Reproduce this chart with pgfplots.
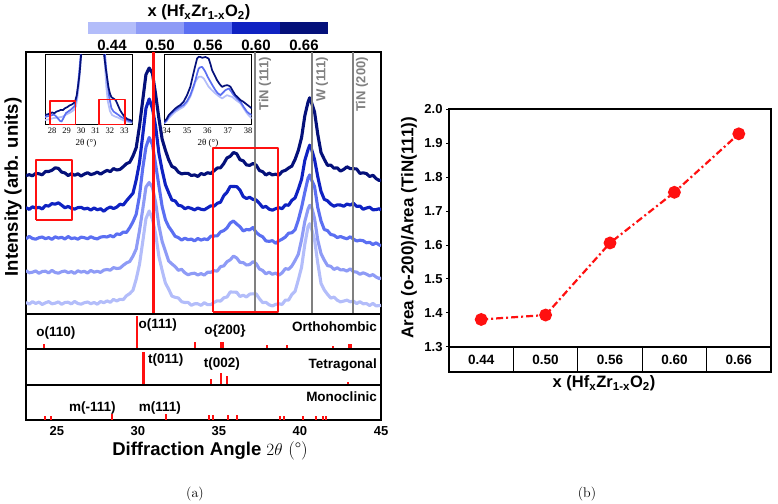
\documentclass[border=0pt]{standalone}
\usepackage{fontspec}
\setsansfont{Liberation Sans}
\newfontfamily\timesfont{Liberation Serif}
\usepackage{pgfplots}
\usepackage{pgfplotstable}
\pgfplotsset{compat=1.18}
\newcommand\fs[1]{\fontsize{#1}{#1}\selectfont}

\definecolor{cA}{HTML}{B3BDFA}
\definecolor{cB}{HTML}{8E9BF6}
\definecolor{cC}{HTML}{5B6FF2}
\definecolor{cD}{HTML}{0F22C2}
\definecolor{cE}{HTML}{04107A}
\definecolor{xred}{HTML}{FF1010}
\definecolor{lgray}{HTML}{808080}

% XRD scans (stacked, offset intensities); c1..c5 = x 0.44 ... 0.66
\pgfplotstableread{
tt c1 c2 c3 c4 c5
23.1 11.6 43.4 75.1 106.4 138.4
23.3 9.9 41.2 77.6 104.6 139.3
23.5 12.3 41.8 75.5 107.2 138.2
23.7 10.6 43.1 74.8 105.9 140.6
23.9 11.9 40.7 76.3 106.7 140.2
24.1 9.5 42.5 77.0 105.0 139.2
24.3 11.2 42.8 75.3 108.5 142.5
24.5 12.4 41.1 76.4 107.9 142.5
24.7 10.2 43.6 74.6 110.4 143.7
24.9 10.8 41.5 77.2 109.8 146.2
25.1 12.1 40.8 75.9 111.2 145.6
25.3 9.7 42.3 76.7 108.8 141.9
25.5 11.5 43.0 75.0 106.2 141.1
25.7 11.8 41.3 77.5 107.6 138.4
25.9 10.1 42.4 75.4 105.7 140.4
26.1 12.6 40.6 76.1 104.9 138.7
26.3 10.5 43.2 74.8 106.4 140.2
26.5 9.8 41.9 76.9 106.7 138.0
26.7 11.3 42.7 76.3 105.0 139.9
26.9 12.0 41.0 75.2 105.8 141.3
27.1 10.3 43.6 77.3 103.9 139.4
27.3 11.5 41.8 75.8 106.1 140.3
27.5 9.8 42.7 75.1 104.2 141.9
27.7 12.5 41.6 76.9 105.3 139.8
27.9 11.3 43.9 77.4 102.7 141.9
28.1 13.1 44.5 77.0 105.4 143.6
28.3 11.7 43.8 78.4 107.0 142.4
28.5 14.6 46.4 77.1 105.4 145.4
28.7 13.0 45.5 80.1 106.9 144.0
28.9 14.7 45.9 79.5 109.8 144.6
29.1 14.4 48.7 81.9 109.0 147.3
29.3 18.3 51.1 81.6 113.2 150.3
29.5 20.4 52.5 86.3 117.0 151.8
29.7 23.8 57.9 92.2 120.8 158.0
29.9 34.9 65.0 99.8 134.1 166.4
30.1 49.5 83.3 118.2 151.3 187.7
30.3 72.1 104.5 145.5 178.6 213.5
30.5 95.4 127.0 166.9 205.7 239.4
30.7 103.0 131.5 176.5 215.0 246.0
30.9 95.1 126.6 169.4 205.6 240.8
31.1 79.9 111.3 149.2 187.3 219.3
31.3 57.4 88.2 128.1 160.5 195.4
31.5 43.5 72.4 107.4 143.7 174.7
31.7 30.9 62.7 94.3 129.3 163.8
31.9 24.9 53.0 87.4 121.4 154.3
32.1 17.9 50.1 82.8 114.0 147.6
32.3 16.7 47.4 77.7 113.1 146.0
32.5 16.0 43.7 76.4 108.7 141.9
32.7 12.3 44.7 73.9 108.0 140.1
32.9 11.5 41.2 75.8 105.3 140.7
33.1 11.6 39.2 74.3 106.6 140.6
33.3 8.7 40.4 74.9 105.6 138.5
33.5 10.2 40.8 73.1 104.1 139.1
33.7 10.2 39.0 75.5 106.0 137.5
33.9 8.6 40.4 73.9 104.7 140.5
34.1 11.3 38.9 75.1 104.2 139.4
34.3 9.3 41.8 74.3 106.2 141.3
34.5 9.4 41.7 77.8 108.2 140.5
34.7 11.5 43.3 78.0 107.8 143.2
34.9 13.2 42.9 78.2 110.7 146.0
35.1 12.9 47.3 82.1 111.8 146.2
35.3 16.2 48.1 83.4 118.3 150.4
35.5 17.0 52.3 86.1 121.7 156.1
35.7 22.0 54.2 91.0 127.6 157.7
35.9 21.9 57.9 93.0 127.5 161.5
36.1 21.7 56.0 89.9 127.4 160.2
36.3 17.5 51.6 87.3 123.9 154.3
36.5 18.8 51.4 83.0 117.4 153.2
36.7 17.0 49.0 84.5 115.5 149.1
36.9 19.9 49.4 84.1 116.7 148.6
37.1 20.2 52.3 86.5 114.6 150.5
37.3 20.1 50.4 81.6 114.0 148.9
37.5 15.3 45.0 78.9 110.6 143.5
37.7 11.4 43.5 77.2 106.6 142.3
37.9 11.7 40.2 73.1 107.6 139.0
38.1 9.2 41.8 72.6 104.8 140.9
38.3 8.0 39.7 73.4 103.8 139.1
38.5 9.6 40.9 70.7 105.3 139.8
38.7 10.3 38.8 73.2 106.3 138.8
38.9 9.5 41.2 74.8 105.3 142.5
39.1 13.9 45.4 77.0 109.2 143.6
39.3 13.9 44.7 80.8 108.7 146.0
39.5 19.5 48.0 81.2 113.7 147.9
39.7 22.7 53.5 84.3 116.1 154.6
39.9 34.2 59.8 94.0 124.8 163.6
40.1 46.8 74.3 106.5 134.7 176.4
40.3 69.6 92.5 121.7 153.6 198.2
40.5 87.4 104.9 135.9 164.4 212.0
40.6 90.3 108.7 139.1 168.8 216.2
40.7 86.1 108.2 134.7 165.7 212.0
40.9 74.4 95.6 127.5 154.6 202.2
41.1 50.8 73.9 106.4 137.2 179.6
41.3 30.6 60.4 93.0 122.6 161.5
41.5 24.0 53.9 84.5 114.7 154.7
41.7 19.7 48.4 83.4 113.2 148.7
41.9 15.9 47.7 79.5 109.8 148.9
42.1 16.9 44.6 78.8 107.8 145.8
42.3 13.8 46.2 76.4 109.1 146.2
42.5 12.1 44.1 77.5 109.0 142.9
42.7 12.9 44.3 76.2 107.7 144.6
42.9 13.9 42.9 75.2 110.0 147.2
43.1 12.2 45.2 77.2 108.9 145.4
43.3 12.9 42.3 74.9 110.7 145.3
43.5 10.4 41.9 73.0 107.6 145.0
43.7 12.3 39.7 73.8 107.9 140.6
43.9 10.2 41.2 73.3 104.7 141.2
44.1 10.5 39.9 71.2 106.0 140.4
44.3 8.5 38.1 71.7 106.8 137.5
44.5 10.6 39.4 69.4 104.2 138.7
44.7 8.1 37.0 71.2 104.4 135.4
44.9 8.4 35.3 68.9 105.3 133.4
45.0 8.6 36.5 68.4 103.7 134.3
}\xrd

\begin{document}
\begin{tikzpicture}
\useasboundingbox (0,0) rectangle (778bp,504bp);

% ---------------- (a) stacked diffractograms ----------------
\begin{axis}[at={(26bp,190bp)}, anchor=south west, scale only axis,
  width=355bp, height=262bp, xmin=23.1, xmax=45, ymin=0, ymax=262,
  xtick=\empty, ytick=\empty, axis line style={line width=1.5bp},
  every axis plot/.append style={line width=3.1bp, line join=round}]
\addplot[cA] table[x=tt,y=c1]{\xrd};
\addplot[cB] table[x=tt,y=c2]{\xrd};
\addplot[cC] table[x=tt,y=c3]{\xrd};
\addplot[cD] table[x=tt,y=c4]{\xrd};
\addplot[cE] table[x=tt,y=c5]{\xrd};
% TiN (111), W (111), TiN (200) positions and the o(111) marker
\addplot[color=lgray, line width=2.2bp] coordinates {(37.22,0) (37.22,262)};
\addplot[color=lgray, line width=2.2bp] coordinates {(40.74,0) (40.74,262)};
\addplot[color=lgray, line width=2.2bp] coordinates {(43.27,0) (43.27,262)};
\addplot[color=xred, line width=2.2bp] coordinates {(30.96,0) (30.96,262)};
\addplot[color=xred, line width=2bp] coordinates {(23.70,94) (25.96,94) (25.96,154) (23.70,154) (23.70,94)};
\addplot[color=xred, line width=2bp] coordinates {(34.63,2) (38.64,2) (38.64,166) (34.63,166) (34.63,2)};
\end{axis}

% reference lines labels
\begin{scope}[every node/.style={rotate=90, anchor=east, inner sep=0pt, text=lgray,
    font=\sffamily\bfseries\fs{13bp}}]
\node at (265bp,447bp) {TiN (111)};
\node at (322bp,447bp) {W (111)};
\node at (362bp,447bp) {TiN (200)};
\end{scope}

% inset: around the (111) reflection
\begin{axis}[at={(45bp,379bp)}, anchor=south west, scale only axis,
  width=87.3bp, height=70.7bp, xmin=27.5, xmax=33.55, ymin=0, ymax=71,
  xtick={28,29,30,31,32,33}, ytick=\empty, major tick length=0pt,
  tick label style={font=\timesfont\fs{8.5bp}, inner sep=1.5bp, yshift=-1bp},
  /pgf/number format/assume math mode=true,
  axis background/.style={fill=white}, axis line style={line width=1bp},
  every axis plot/.append style={line width=1.7bp, line join=round}]
\addplot[cA] coordinates {(27.5,5) (27.7,5.5) (27.9,6.2) (28.1,7) (28.3,7.2) (28.5,7.8) (28.7,8.2) (28.9,10) (29.1,11.5) (29.3,13) (29.5,15) (29.65,19) (29.75,28) (29.85,40) (29.95,58) (30.05,78) (30.15,95) (31.5,95) (31.65,60) (31.75,38) (31.85,24) (32.0,14) (32.15,10) (32.35,8.5) (32.55,7.5) (32.75,6) (33.0,4.2) (33.3,3) (33.55,2)};
\addplot[cC] coordinates {(27.5,8) (27.7,8.8) (27.9,9.5) (28.1,10.5) (28.25,9) (28.4,6.5) (28.55,4) (28.65,3.5) (28.8,7.5) (28.95,12) (29.1,13.5) (29.25,15) (29.4,16.8) (29.55,19) (29.7,28) (29.8,42) (29.9,58) (30.0,75) (30.1,92) (31.5,92) (31.65,72) (31.75,55) (31.85,40) (31.95,28) (32.1,17) (32.25,13.5) (32.4,12) (32.6,10) (32.75,8.3) (32.9,7.2) (33.1,5.5) (33.3,4) (33.55,3)};
\addplot[cE] coordinates {(27.5,10) (27.7,10.8) (27.85,11.7) (28.0,12.6) (28.15,11.8) (28.3,13.5) (28.45,14.2) (28.6,15.2) (28.75,15.0) (28.9,17.0) (29.05,18.0) (29.2,19.6) (29.35,20.5) (29.5,22.0) (29.6,24.5) (29.7,30) (29.8,40) (29.9,52) (30.0,70) (30.1,90) (31.45,90) (31.6,70) (31.7,58) (31.8,48) (31.9,38) (32.0,31.7) (32.1,28) (32.25,26.5) (32.4,25) (32.55,20) (32.7,15) (32.85,11.5) (33.0,8.5) (33.2,6) (33.4,5) (33.55,4)};
\addplot[color=xred, line width=1.6bp] coordinates {(27.85,0.4) (29.6,0.4) (29.6,24.3) (27.85,24.3) (27.85,0.4)};
\addplot[color=xred, line width=1.6bp] coordinates {(31.25,0.4) (33.05,0.4) (33.05,25.7) (31.25,25.7) (31.25,0.4)};
\end{axis}
\node[anchor=base, font=\timesfont\fs{9bp}] at (86bp,358bp) {2θ (°)};

% inset: o{200} region
\begin{axis}[at={(164bp,379bp)}, anchor=south west, scale only axis,
  width=87.7bp, height=70.7bp, xmin=33.87, xmax=38.17, ymin=0, ymax=71,
  xtick={34,35,36,37,38}, ytick=\empty, major tick length=0pt,
  tick label style={font=\timesfont\fs{8.5bp}, inner sep=1.5bp, yshift=-1bp},
  /pgf/number format/assume math mode=true,
  axis background/.style={fill=white}, axis line style={line width=1bp},
  every axis plot/.append style={line width=1.7bp, line join=round}]
\addplot[cA] coordinates {(33.87,1.7) (34.0,4) (34.1,6.7) (34.25,10) (34.43,13.3) (34.6,15.5) (34.83,18.3) (35.0,22.5) (35.16,28.3) (35.3,36) (35.41,43.3) (35.5,46.5) (35.57,48.3) (35.7,48.5) (35.82,46.7) (35.94,42.5) (36.06,38.3) (36.22,35) (36.39,31.7) (36.55,29) (36.72,26.7) (36.85,28.5) (36.96,30) (37.08,29) (37.21,28.3) (37.4,25) (37.62,21.7) (37.78,16.5) (37.94,11.7) (38.05,9) (38.17,6.7)};
\addplot[cC] coordinates {(33.87,1.7) (34.0,4.5) (34.1,8.3) (34.25,12) (34.43,15) (34.6,17.5) (34.83,20) (35.0,24) (35.16,30) (35.3,38) (35.41,45) (35.5,52) (35.57,56.7) (35.65,58) (35.74,58.3) (35.82,56) (35.9,53.3) (36.02,48) (36.15,43.3) (36.27,39) (36.39,35) (36.5,32) (36.64,30) (36.76,32.5) (36.88,35) (37.05,36.7) (37.17,33.5) (37.29,30) (37.45,26.5) (37.62,23.3) (37.78,18) (37.94,13.3) (38.05,11.5) (38.17,10)};
\addplot[cE] coordinates {(33.87,3.3) (34.0,6) (34.1,10) (34.25,13) (34.43,16.7) (34.55,18.5) (34.67,20) (34.83,23.3) (35.0,30) (35.16,38.3) (35.33,53.3) (35.49,66.7) (35.57,68.5) (35.65,68.3) (35.75,67.5) (35.9,68.3) (36.06,66.7) (36.15,61) (36.23,55) (36.35,50) (36.47,45) (36.6,41) (36.72,38.3) (36.85,39.5) (36.96,40) (37.05,39.5) (37.13,38.3) (37.25,34) (37.37,30) (37.5,27.5) (37.62,25) (37.75,23.5) (37.86,21.7) (38.0,19.5) (38.17,16.7)};
\end{axis}
\node[anchor=base, font=\timesfont\fs{9bp}] at (208bp,358bp) {2θ (°)};

% composition colour key
\fill[cA] (88bp,470bp) rectangle (136bp,482bp);
\fill[cB] (136bp,470bp) rectangle (184bp,482bp);
\fill[cC] (184bp,470bp) rectangle (232bp,482bp);
\fill[cD] (232bp,470bp) rectangle (280bp,482bp);
\fill[cE] (280bp,470bp) rectangle (328bp,482bp);
\begin{scope}[every node/.style={anchor=base, font=\sffamily\bfseries\fs{15bp}}]
\node at (112bp,453bp) {0.44};
\node at (160bp,453bp) {0.50};
\node at (208bp,453bp) {0.56};
\node at (256bp,453bp) {0.60};
\node at (304bp,453bp) {0.66};
\node[font=\sffamily\bfseries\fs{16.5bp}] at (199bp,487.5bp) {x (Hf\textsubscript{x}Zr\textsubscript{1-x}O\textsubscript{2})};
\end{scope}

% reference patterns
\begin{axis}[at={(26bp,155bp)}, anchor=south west, scale only axis,
  width=355bp, height=35bp, xmin=23.1, xmax=45, ymin=0, ymax=35,
  xtick=\empty, ytick=\empty, axis line style={line width=1.5bp}]
\addplot[ycomb, color=xred, line width=2bp] coordinates {(24.22,5) (29.92,33) (33.52,7) (35.10,7) (35.27,7) (37.94,4) (39.18,4) (42.06,3) (43.04,5) (43.15,5)};
\node[font=\sffamily\bfseries\fs{13.5bp}] at (axis cs:24.94,16) {o(110)};
\node[font=\sffamily\bfseries\fs{13.5bp}, anchor=west, inner sep=0pt] at (axis cs:30.03,24) {o(111)};
\node[font=\sffamily\bfseries\fs{13.5bp}] at (axis cs:35.37,18) {o\{200\}};
\node[font=\sffamily\bfseries\fs{13.5bp}, anchor=east, inner sep=0pt] at (axis cs:44.75,22) {Orthohombic};
\end{axis}
\begin{axis}[at={(26bp,119bp)}, anchor=south west, scale only axis,
  width=355bp, height=36bp, xmin=23.1, xmax=45, ymin=0, ymax=36,
  xtick=\empty, ytick=\empty, axis line style={line width=1.5bp}]
\addplot[ycomb, color=xred, line width=2bp] coordinates {(34.50,6) (35.10,12) (35.47,9) (42.98,3)};
\addplot[ycomb, color=xred, line width=2.8bp] coordinates {(30.33,33)};
\node[font=\sffamily\bfseries\fs{13.5bp}, anchor=west, inner sep=0pt] at (axis cs:30.62,25) {t(011)};
\node[font=\sffamily\bfseries\fs{13.5bp}] at (axis cs:35.19,21) {t(002)};
\node[font=\sffamily\bfseries\fs{13.5bp}, anchor=east, inner sep=0pt] at (axis cs:44.75,20) {Tetragonal};
\end{axis}
\begin{axis}[at={(26bp,84bp)}, anchor=south west, scale only axis,
  width=355bp, height=35bp, xmin=23.1, xmax=45, ymin=0, ymax=35,
  xtick={25,30,35,40,45}, ytick=\empty, major tick length=0pt,
  tick label style={font=\sffamily\bfseries\fs{13bp}, yshift=-3bp},
  /pgf/number format/assume math mode=true,
  axis line style={line width=1.5bp}]
\addplot[ycomb, color=xred, line width=2bp] coordinates {(24.26,4) (24.67,4) (28.42,6) (31.71,6) (34.38,5) (34.65,5) (35.54,5) (36.09,5) (38.77,4) (39.03,4) (40.17,4) (40.99,4) (41.40,4) (41.60,4)};
\node[font=\sffamily\bfseries\fs{13.5bp}] at (axis cs:27.2,12) {m(-111)};
\node[font=\sffamily\bfseries\fs{13.5bp}] at (axis cs:31.36,12) {m(111)};
\node[font=\sffamily\bfseries\fs{13.5bp}, anchor=east, inner sep=0pt] at (axis cs:44.75,23) {Monoclinic};
\end{axis}

\node[anchor=base] at (210bp,48bp) {\fs{18.5bp}\sffamily\bfseries Diffraction Angle \rmfamily\mdseries $2\theta$ (\textdegree)};
\node[rotate=90, font=\sffamily\bfseries\fs{18.5bp}] at (13bp,317bp) {Intensity (arb. units)};
\node[anchor=base, font=\fs{14bp}] at (195bp,7bp) {(a)};

% ---------------- (b) area ratio ----------------
\begin{axis}[at={(449bp,157bp)}, anchor=south west, scale only axis,
  width=322bp, height=238bp, xmin=0, xmax=5, ymin=1.3, ymax=2.0,
  xtick=\empty, ytick={1.3,1.4,1.5,1.6,1.7,1.8,1.9,2.0}, ytick pos=left,
  yticklabel style={/pgf/number format/fixed, /pgf/number format/fixed zerofill,
    /pgf/number format/precision=1},
  tick label style={font=\sffamily\bfseries\fs{13bp}},
  /pgf/number format/assume math mode=true,
  tick align=outside, major tick length=3bp, ytick style={line width=1bp, black},
  axis line style={line width=1.3bp}, clip=false]
\addplot[color=xred, line width=2.2bp, dash pattern=on 7bp off 3bp on 2bp off 3bp,
  mark=*, mark size=5.3bp, mark options={solid, fill=xred, draw=xred}]
  coordinates {(0.5,1.381) (1.5,1.394) (2.5,1.606) (3.5,1.755) (4.5,1.927)};
\end{axis}
\begin{axis}[at={(449bp,132bp)}, anchor=south west, scale only axis,
  width=322bp, height=25bp, xmin=0, xmax=5, ymin=0, ymax=1,
  xtick=\empty, ytick=\empty, axis line style={line width=1.3bp}]
\draw[line width=1.3bp] (axis cs:1,0) -- (axis cs:1,1);
\draw[line width=1.3bp] (axis cs:2,0) -- (axis cs:2,1);
\draw[line width=1.3bp] (axis cs:3,0) -- (axis cs:3,1);
\draw[line width=1.3bp] (axis cs:4,0) -- (axis cs:4,1);
\node[font=\sffamily\bfseries\fs{13.5bp}] at (axis cs:0.5,0.5) {0.44};
\node[font=\sffamily\bfseries\fs{13.5bp}] at (axis cs:1.5,0.5) {0.50};
\node[font=\sffamily\bfseries\fs{13.5bp}] at (axis cs:2.5,0.5) {0.56};
\node[font=\sffamily\bfseries\fs{13.5bp}] at (axis cs:3.5,0.5) {0.60};
\node[font=\sffamily\bfseries\fs{13.5bp}] at (axis cs:4.5,0.5) {0.66};
\end{axis}
\node[rotate=90, font=\sffamily\bfseries\fs{17bp}] at (409bp,276bp) {Area (o-200)/Area (TiN(111))};
\node[anchor=base, font=\sffamily\bfseries\fs{16.5bp}] at (604bp,116bp) {x (Hf\textsubscript{x}Zr\textsubscript{1-x}O\textsubscript{2})};
\node[anchor=base, font=\fs{14bp}] at (587bp,7bp) {(b)};
\end{tikzpicture}
\end{document}
